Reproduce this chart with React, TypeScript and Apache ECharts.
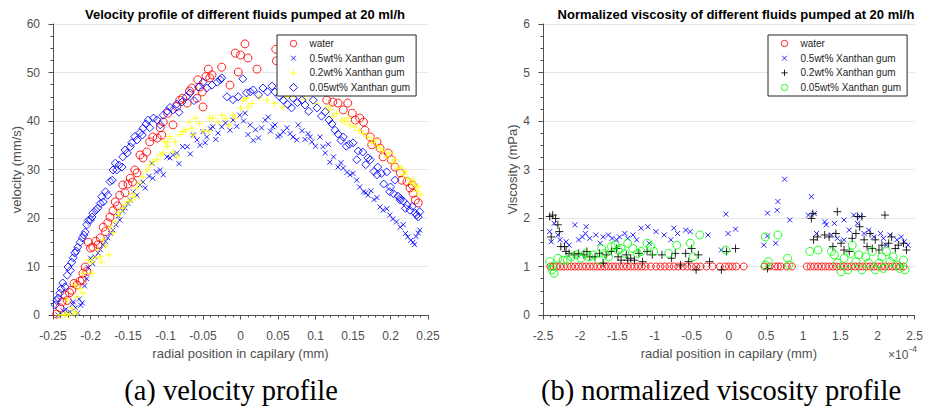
import React, { useEffect, useRef } from "react";
import * as echarts from "echarts";

// ---- shared labels ----
const fluidNames = ["water", "0.5wt% Xanthan gum", "0.2wt% Xanthan gum", "0.05wt% Xanthan gum"];
const velocityTitle = "Velocity profile of different fluids pumped at 20 ml/h";
const viscosityTitle = "Normalized viscosity of different fluids pumped at 20 ml/h";
const xAxisName = "radial position in capilary (mm)";
const velocityAxisName = "velocity (mm/s)";
const viscosityAxisName = "Viscosity (mPa)";
const captionA = "(a) velocity profile";
const captionB = "(b) normalized viscosity profile";

// ---- (a) velocity profile: [radial position (mm), velocity (mm/s)] ----
const velocityWater: [number, number][] = [
  [-0.245, 0.2], [-0.241, 1.5], [-0.238, 2.7], [-0.234, 4.1], [-0.231, 3.0], [-0.228, 4.6], [-0.225, 5.1],
  [-0.222, 6.5], [-0.218, 6.2], [-0.214, 7.0], [-0.211, 7.2], [-0.21, 8.6], [-0.207, 9.9], [-0.205, 9.0],
  [-0.203, 15.0], [-0.2, 13.8], [-0.197, 14.0], [-0.193, 15.2], [-0.19, 14.5], [-0.187, 15.9], [-0.183, 18.1],
  [-0.18, 17.2], [-0.177, 19.0], [-0.174, 20.2], [-0.17, 21.5], [-0.167, 23.3], [-0.164, 22.5], [-0.161, 24.7],
  [-0.157, 26.8], [-0.154, 25.2], [-0.15, 27.0], [-0.147, 28.2], [-0.144, 27.4], [-0.141, 29.9], [-0.138, 29.3],
  [-0.134, 33.0], [-0.13, 32.4], [-0.125, 33.6], [-0.121, 35.7], [-0.117, 36.7], [-0.111, 36.5], [-0.107, 38.6],
  [-0.105, 37.1], [-0.103, 39.8], [-0.097, 41.6], [-0.09, 39.2], [-0.085, 43.0], [-0.081, 44.3], [-0.077, 44.7],
  [-0.071, 43.7], [-0.068, 46.2], [-0.065, 46.8], [-0.058, 44.7], [-0.057, 48.5], [-0.054, 47.0], [-0.051, 46.0],
  [-0.05, 42.9], [-0.046, 49.2], [-0.043, 50.7], [-0.041, 48.9], [-0.038, 49.5], [-0.025, 51.1], [-0.014, 47.4],
  [-0.007, 54.0], [-0.003, 50.1], [0.0, 53.6], [0.006, 55.9], [0.01, 53.0], [0.022, 50.7], [0.047, 54.8],
  [0.048, 52.4], [0.06, 53.2], [0.075, 51.6], [0.09, 49.5], [0.105, 46.8], [0.115, 44.3], [0.123, 43.9],
  [0.13, 43.7], [0.137, 42.3], [0.143, 43.7], [0.149, 41.6], [0.153, 40.2], [0.159, 40.6], [0.164, 39.8],
  [0.166, 38.1], [0.173, 36.7], [0.175, 35.1], [0.182, 35.7], [0.186, 34.4], [0.19, 32.6], [0.197, 33.4],
  [0.201, 32.0], [0.206, 30.5], [0.213, 29.3], [0.215, 27.8], [0.222, 27.5], [0.226, 26.2], [0.229, 26.8],
  [0.23, 25.1], [0.233, 23.7], [0.237, 23.1],
];

const velocityXG05: [number, number][] = [
  [-0.243, 0.0], [-0.24, 0.3], [-0.236, 0.8], [-0.233, 1.2], [-0.23, 0.4], [-0.227, 0.6], [-0.224, 2.2],
  [-0.223, 2.7], [-0.22, 1.5], [-0.217, 0.4], [-0.215, 3.3], [-0.213, 2.0], [-0.211, 2.5], [-0.208, 6.0],
  [-0.205, 7.5], [-0.203, 9.8], [-0.2, 11.7], [-0.197, 10.6], [-0.194, 12.0], [-0.19, 12.8], [-0.187, 13.5],
  [-0.183, 14.4], [-0.18, 15.2], [-0.177, 15.9], [-0.173, 16.8], [-0.17, 17.5], [-0.166, 18.6], [-0.163, 20.4],
  [-0.161, 19.6], [-0.157, 21.4], [-0.154, 22.1], [-0.15, 23.0], [-0.147, 23.7], [-0.143, 25.4], [-0.138, 24.7],
  [-0.134, 26.8], [-0.13, 27.4], [-0.127, 26.2], [-0.122, 28.6], [-0.118, 31.3], [-0.117, 28.2], [-0.112, 29.5],
  [-0.107, 29.9], [-0.103, 28.9], [-0.098, 32.6], [-0.094, 32.4], [-0.09, 33.0], [-0.085, 33.4], [-0.082, 31.2],
  [-0.077, 34.7], [-0.071, 34.7], [-0.067, 33.2], [-0.063, 37.1], [-0.058, 36.1], [-0.054, 35.0], [-0.05, 37.8],
  [-0.047, 35.5], [-0.045, 36.7], [-0.04, 38.4], [-0.037, 38.8], [-0.033, 36.2], [-0.03, 37.5], [-0.025, 38.8],
  [-0.02, 39.6], [-0.014, 38.1], [-0.01, 40.2], [-0.005, 38.9], [-0.001, 41.2], [0.004, 40.0], [0.006, 41.6],
  [0.01, 37.2], [0.013, 39.2], [0.017, 36.0], [0.02, 38.2], [0.024, 36.5], [0.028, 38.6], [0.033, 40.2],
  [0.037, 40.8], [0.04, 37.9], [0.043, 38.8], [0.046, 39.2], [0.05, 36.8], [0.053, 37.1], [0.057, 37.8],
  [0.062, 38.6], [0.066, 37.4], [0.07, 36.7], [0.075, 36.1], [0.077, 39.2], [0.082, 38.0], [0.086, 36.2],
  [0.09, 37.4], [0.093, 36.7], [0.095, 35.7], [0.1, 34.8], [0.106, 36.7], [0.11, 34.7], [0.113, 33.4],
  [0.117, 35.2], [0.119, 31.5], [0.124, 32.6], [0.13, 30.5], [0.134, 31.4], [0.137, 30.3], [0.142, 29.4],
  [0.146, 28.9], [0.15, 29.2], [0.155, 27.8], [0.159, 26.4], [0.164, 25.4], [0.167, 25.2], [0.17, 24.7],
  [0.174, 25.6], [0.178, 23.8], [0.182, 24.2], [0.186, 22.3], [0.19, 21.6], [0.195, 21.9], [0.199, 20.6],
  [0.203, 19.8], [0.208, 19.2], [0.213, 18.1], [0.217, 18.6], [0.22, 16.8], [0.223, 16.1], [0.227, 15.4],
  [0.23, 15.0], [0.232, 14.5], [0.234, 16.2], [0.237, 16.9], [0.239, 17.5],
];

const velocityXG02: [number, number][] = [
  [-0.242, 0.0], [-0.238, 0.0], [-0.234, 0.0], [-0.231, 0.3], [-0.228, 0.0], [-0.225, 1.4], [-0.222, 0.6],
  [-0.218, 0.4], [-0.231, 3.1], [-0.218, 3.7], [-0.221, 6.2], [-0.214, 5.5], [-0.21, 4.5], [-0.21, 8.6],
  [-0.203, 11.3], [-0.198, 8.6], [-0.198, 10.9], [-0.193, 11.8], [-0.19, 13.4], [-0.187, 12.0], [-0.185, 10.9],
  [-0.183, 15.5], [-0.18, 14.2], [-0.176, 12.4], [-0.174, 18.1], [-0.17, 17.0], [-0.167, 19.2], [-0.163, 20.5],
  [-0.161, 21.2], [-0.157, 22.0], [-0.154, 22.7], [-0.15, 23.4], [-0.147, 23.7], [-0.144, 25.0], [-0.141, 24.3],
  [-0.138, 26.2], [-0.134, 27.2], [-0.13, 28.5], [-0.125, 29.9], [-0.121, 30.9], [-0.117, 31.6], [-0.111, 32.0],
  [-0.107, 33.0], [-0.103, 33.4], [-0.101, 35.7], [-0.098, 34.7], [-0.097, 35.7], [-0.094, 36.8], [-0.09, 33.6],
  [-0.087, 35.7], [-0.085, 32.6], [-0.081, 37.2], [-0.077, 37.8], [-0.073, 38.2], [-0.068, 39.8], [-0.065, 38.5],
  [-0.063, 37.1], [-0.06, 40.6], [-0.055, 39.5], [-0.05, 38.0], [-0.043, 37.8], [-0.041, 40.6], [-0.037, 40.6],
  [-0.03, 39.8], [-0.025, 41.2], [-0.02, 40.5], [-0.016, 39.2], [-0.01, 41.2], [-0.007, 40.6], [0.0, 42.6],
  [0.003, 44.3], [0.008, 44.7], [0.01, 42.9], [0.015, 43.6], [0.025, 44.8], [0.035, 44.3], [0.045, 43.6],
  [0.057, 42.9], [0.06, 45.0], [0.066, 45.0], [0.073, 45.4], [0.085, 44.5], [0.1, 43.6], [0.117, 42.9],
  [0.119, 42.3], [0.123, 40.9], [0.128, 41.6], [0.135, 40.2], [0.139, 39.8], [0.143, 40.6], [0.146, 39.2],
  [0.152, 38.8], [0.158, 38.0], [0.164, 37.4], [0.17, 36.7], [0.175, 35.5], [0.179, 36.1], [0.183, 34.9],
  [0.186, 34.4], [0.19, 33.8], [0.195, 32.6], [0.199, 33.4], [0.203, 31.4], [0.206, 32.0], [0.21, 30.2],
  [0.213, 30.5], [0.217, 29.0], [0.22, 29.6], [0.223, 28.2], [0.227, 27.2], [0.23, 27.8], [0.233, 26.8],
  [0.235, 25.5], [0.237, 26.4], [0.24, 24.8],
];

const velocityXG005: [number, number][] = [
  [-0.247, 2.1], [-0.245, 3.0], [-0.243, 3.5], [-0.241, 4.5], [-0.239, 5.4], [-0.237, 6.6], [-0.234, 5.8],
  [-0.231, 8.2], [-0.23, 9.9], [-0.227, 9.2], [-0.225, 10.9], [-0.223, 11.8], [-0.221, 12.8], [-0.219, 13.2],
  [-0.217, 14.0], [-0.214, 15.0], [-0.211, 15.9], [-0.209, 16.5], [-0.207, 17.1], [-0.205, 18.6], [-0.203, 19.5],
  [-0.2, 19.6], [-0.198, 20.2], [-0.197, 21.0], [-0.193, 21.6], [-0.19, 22.1], [-0.187, 23.0], [-0.185, 24.4],
  [-0.183, 23.3], [-0.18, 25.4], [-0.177, 24.7], [-0.174, 27.5], [-0.171, 27.8], [-0.17, 29.9], [-0.167, 31.3],
  [-0.165, 29.9], [-0.162, 30.9], [-0.158, 30.5], [-0.157, 32.6], [-0.154, 34.0], [-0.151, 33.4], [-0.147, 34.7],
  [-0.145, 35.5], [-0.141, 36.8], [-0.138, 36.1], [-0.134, 37.6], [-0.131, 37.1], [-0.13, 38.5], [-0.126, 39.4],
  [-0.123, 40.2], [-0.121, 38.6], [-0.116, 40.6], [-0.111, 40.2], [-0.107, 39.2], [-0.103, 41.2], [-0.098, 42.0],
  [-0.094, 42.8], [-0.09, 42.3], [-0.085, 43.5], [-0.082, 41.8], [-0.078, 43.9], [-0.072, 45.0], [-0.067, 45.8],
  [-0.062, 44.2], [-0.056, 47.0], [-0.05, 48.0], [-0.045, 46.8], [-0.038, 47.4], [-0.031, 48.0], [-0.027, 48.5],
  [-0.025, 48.9], [-0.018, 45.0], [-0.01, 44.4], [-0.003, 45.0], [0.003, 48.7], [0.008, 45.8], [0.013, 46.0],
  [0.017, 46.4], [0.024, 45.4], [0.03, 46.8], [0.036, 46.0], [0.042, 47.2], [0.046, 46.0], [0.052, 45.0],
  [0.057, 44.3], [0.063, 43.4], [0.068, 42.7], [0.07, 44.7], [0.076, 43.8], [0.082, 44.3], [0.086, 43.3],
  [0.091, 42.0], [0.097, 44.3], [0.102, 42.7], [0.108, 41.0], [0.113, 41.9], [0.118, 40.2], [0.122, 39.4],
  [0.126, 38.1], [0.13, 37.3], [0.134, 36.0], [0.137, 36.7], [0.141, 34.8], [0.145, 35.2], [0.15, 35.5],
  [0.155, 32.0], [0.157, 33.8], [0.163, 33.6], [0.167, 31.0], [0.17, 32.4], [0.173, 32.0], [0.178, 29.6],
  [0.182, 28.9], [0.183, 30.5], [0.188, 29.2], [0.191, 27.0], [0.195, 29.5], [0.199, 25.4], [0.2, 26.4],
  [0.204, 25.0], [0.206, 27.8], [0.21, 24.5], [0.213, 24.1], [0.213, 23.7], [0.217, 23.5], [0.22, 22.0],
  [0.222, 22.7], [0.226, 21.6], [0.229, 22.4], [0.233, 21.0], [0.235, 20.6], [0.237, 20.2], [0.239, 21.3],
];

// ---- (b) normalized viscosity: [radial position (x1e-4 mm), viscosity (mPa)] ----
const viscosityWater: [number, number][] = [
  [-2.4, 1], [-2.36, 1], [-2.32, 1], [-2.27, 1], [-2.22, 1], [-2.17, 1], [-2.12, 1], [-2.07, 1], [-2.02, 1],
  [-1.97, 1], [-1.92, 1], [-1.87, 1], [-1.82, 1], [-1.77, 1], [-1.72, 1], [-1.67, 1], [-1.62, 1], [-1.57, 1],
  [-1.52, 1], [-1.47, 1], [-1.42, 1], [-1.37, 1], [-1.32, 1], [-1.27, 1], [-1.22, 1], [-1.17, 1], [-1.12, 1],
  [-1.05, 1], [-0.98, 1], [-0.92, 1], [-0.86, 1], [-0.8, 1], [-0.74, 1], [-0.68, 1], [-0.62, 1], [-0.56, 1],
  [-0.5, 1], [-0.44, 1], [-0.38, 1], [-0.3, 1], [-0.22, 1], [-0.12, 1], [-0.05, 1], [0.0, 1], [0.05, 1],
  [0.1, 1], [0.2, 1], [0.48, 1], [0.55, 1], [0.62, 1], [0.66, 1], [0.7, 1], [0.78, 1], [0.85, 1], [1.05, 1],
  [1.1, 1], [1.15, 1], [1.2, 1], [1.25, 1], [1.3, 1], [1.35, 1], [1.4, 1], [1.45, 1], [1.5, 1], [1.55, 1],
  [1.6, 1], [1.65, 1], [1.7, 1], [1.75, 1], [1.8, 1], [1.85, 1], [1.9, 1], [1.95, 1], [2.0, 1], [2.05, 1],
  [2.1, 1], [2.15, 1], [2.2, 1], [2.25, 1], [2.3, 1], [2.35, 1],
];

const viscosityXG05: [number, number][] = [
  [-2.41, 1.72], [-2.39, 1.51], [-2.35, 1.89], [-2.3, 1.65], [-2.27, 1.55], [-2.19, 1.51], [-2.15, 1.44],
  [-2.07, 1.86], [-2.02, 1.55], [-1.97, 1.61], [-1.93, 1.68], [-1.92, 1.82], [-1.87, 1.58], [-1.79, 1.65],
  [-1.73, 1.48], [-1.69, 1.61], [-1.62, 1.65], [-1.57, 1.58], [-1.51, 1.55], [-1.47, 1.61], [-1.4, 1.68],
  [-1.36, 1.58], [-1.29, 1.65], [-1.24, 1.55], [-1.18, 1.79], [-1.09, 1.82], [-1.07, 1.48], [-0.98, 1.72],
  [-0.87, 1.65], [-0.78, 1.55], [-0.74, 1.79], [-0.69, 1.68], [-0.58, 1.75], [-0.52, 1.72], [-0.28, 1.65],
  [-0.1, 1.34], [-0.04, 2.08], [-0.01, 1.68], [0.09, 1.77], [0.47, 1.44], [0.52, 2.1], [0.52, 1.63],
  [0.63, 1.48], [0.65, 2.16], [0.66, 2.34], [0.75, 2.8], [0.82, 1.96], [1.07, 2.06], [1.11, 2.44],
  [1.15, 2.09], [1.18, 1.68], [1.29, 1.92], [1.31, 1.86], [1.38, 1.65], [1.42, 1.89], [1.46, 1.58],
  [1.55, 1.96], [1.55, 1.55], [1.62, 1.75], [1.68, 2.06], [1.73, 1.89], [1.77, 2.03], [1.82, 1.68],
  [1.88, 1.75], [1.95, 1.61], [2.04, 1.68], [2.08, 1.58], [2.12, 1.44], [2.17, 1.65], [2.26, 1.55],
  [2.32, 1.61], [2.36, 1.51], [2.41, 1.44],
];

const viscosityXG02: [number, number][] = [
  [-2.41, 2.03], [-2.37, 2.06], [-2.33, 1.99], [-2.39, 1.61], [-2.3, 1.86], [-2.28, 1.72], [-2.26, 1.41],
  [-2.21, 1.41], [-2.19, 1.31], [-2.15, 1.27], [-2.08, 1.24], [-2.02, 1.27], [-1.95, 1.24], [-1.91, 1.31],
  [-1.87, 1.2], [-1.8, 1.2], [-1.74, 1.27], [-1.69, 1.07], [-1.65, 1.24], [-1.58, 1.31], [-1.51, 1.37],
  [-1.49, 1.2], [-1.45, 1.13], [-1.38, 1.24], [-1.36, 1.13], [-1.32, 1.17], [-1.27, 1.13], [-1.21, 1.27],
  [-1.16, 1.1], [-1.1, 1.31], [-1.03, 1.24], [-0.9, 1.24], [-0.77, 1.17], [-0.72, 1.27], [-0.65, 1.03],
  [-0.58, 1.27], [-0.54, 1.1], [-0.5, 1.37], [-0.44, 0.93], [-0.41, 1.24], [-0.26, 1.1], [-0.1, 0.93],
  [-0.03, 1.31], [0.09, 1.37], [0.52, 0.96], [1.11, 1.99], [1.13, 2.09], [1.14, 1.55], [1.19, 1.61],
  [1.29, 1.65], [1.35, 1.61], [1.4, 1.41], [1.44, 1.68], [1.46, 2.13], [1.51, 1.48], [1.55, 1.34],
  [1.62, 1.31], [1.66, 1.58], [1.71, 1.68], [1.73, 2.03], [1.76, 1.82], [1.79, 2.03], [1.82, 1.55],
  [1.86, 1.41], [1.9, 1.68], [1.93, 1.37], [1.97, 1.55], [2.02, 1.34], [2.06, 1.44], [2.1, 2.06],
  [2.15, 1.48], [2.19, 1.61], [2.24, 1.37], [2.28, 1.44], [2.35, 1.48], [2.39, 1.34],
];

const viscosityXG005: [number, number][] = [
  [-2.41, 1.1], [-2.38, 0.93], [-2.35, 0.86], [-2.37, 1.0], [-2.3, 1.17], [-2.23, 1.13], [-2.17, 1.13],
  [-2.12, 1.2], [-2.05, 1.24], [-1.99, 1.17], [-1.93, 1.27], [-1.88, 1.2], [-1.82, 1.24], [-1.75, 1.13],
  [-1.71, 1.37], [-1.67, 1.27], [-1.62, 1.2], [-1.58, 1.41], [-1.53, 1.44], [-1.49, 1.34], [-1.45, 1.37],
  [-1.4, 1.27], [-1.36, 1.48], [-1.29, 1.37], [-1.23, 1.27], [-1.18, 1.31], [-1.1, 1.48], [-1.05, 1.41],
  [-1.01, 1.31], [-0.81, 1.27], [-0.7, 1.44], [-0.52, 1.48], [-0.48, 1.2], [-0.39, 1.65], [-0.04, 1.34],
  [0.49, 1.61], [0.49, 1.03], [0.53, 1.1], [0.66, 1.65], [0.79, 1.17], [0.81, 1.03], [1.09, 1.31],
  [1.2, 1.34], [1.38, 1.31], [1.42, 1.24], [1.46, 1.07], [1.51, 0.89], [1.55, 1.17], [1.6, 0.93],
  [1.64, 1.27], [1.66, 1.44], [1.71, 1.1], [1.75, 1.24], [1.79, 0.93], [1.84, 1.2], [1.88, 1.07],
  [1.93, 1.31], [1.97, 0.93], [2.02, 1.07], [2.06, 1.2], [2.08, 0.96], [2.12, 1.31], [2.17, 1.1],
  [2.21, 1.2], [2.26, 1.03], [2.3, 0.96], [2.35, 1.13], [2.37, 0.93],
];

// marker shapes
const CROSS = "path://M0,0L10,10M10,0L0,10";
const PLUS = "path://M5,0L5,10M0,5L10,5";
// legend glyphs: the leading moves fix a 10x10 box so the strokes sit smaller inside it
const CROSS_ICON = "path://M0,0M10,10M2,2L8,8M8,2L2,8";
const PLUS_ICON = "path://M0,0M10,10M5,1L5,9M1,5L9,5";
const CIRCLE_ICON = "path://M0,0M10,10M9,5A4,4,0,1,1,1,5A4,4,0,1,1,9,5Z";

const FONT = "'Liberation Sans', Arial, Helvetica, sans-serif";
const SERIF = "'Liberation Serif', 'Times New Roman', serif";
const AXIS_COLOR = "#505050";
const GRID_COLOR = "#e6e6e6";

type MarkerStyle = { symbol: string; icon: string; size: number; color: string };

const velocityMarkers: MarkerStyle[] = [
  { symbol: "circle", icon: CIRCLE_ICON, size: 8, color: "#ff0000" },
  { symbol: CROSS, icon: CROSS_ICON, size: 5, color: "#0000ff" },
  { symbol: PLUS, icon: PLUS_ICON, size: 7, color: "#ffff00" },
  { symbol: "diamond", icon: "diamond", size: 8, color: "#0000ff" },
];

const viscosityMarkers: MarkerStyle[] = [
  { symbol: "circle", icon: CIRCLE_ICON, size: 7, color: "#ff0000" },
  { symbol: CROSS, icon: CROSS_ICON, size: 5, color: "#0000ff" },
  { symbol: PLUS, icon: PLUS_ICON, size: 8, color: "#000000" },
  { symbol: "circle", icon: CIRCLE_ICON, size: 8, color: "#00ff00" },
];

function scatter(name: string, data: [number, number][], m: MarkerStyle, gridIdx: number) {
  return {
    type: "scatter",
    name,
    data,
    xAxisIndex: gridIdx,
    yAxisIndex: gridIdx,
    symbol: m.symbol,
    symbolSize: m.size,
    silent: true,
    itemStyle: { color: "transparent", borderColor: m.color, borderWidth: 1, opacity: 0.85 },
  };
}

function legendData(markers: MarkerStyle[]) {
  return fluidNames.map((name, i) => ({
    name,
    icon: markers[i].icon,
    itemStyle: { color: "transparent", borderColor: markers[i].color, borderWidth: 1, opacity: 0.85 },
  }));
}

function legend(left: number, markers: MarkerStyle[]) {
  return {
    orient: "vertical",
    left,
    top: 35,
    padding: [1.5, 6, 1.5, 12],
    itemWidth: 8,
    itemHeight: 8,
    itemGap: 0.67,
    selectedMode: false,
    backgroundColor: "#ffffff",
    borderColor: "#262626",
    borderWidth: 1,
    borderRadius: 0,
    textStyle: { fontFamily: FONT, fontSize: 10, color: "#262626", lineHeight: 14, padding: [0, 0, 0, 7] },
    data: legendData(markers),
  };
}

function valueAxisX(gridIndex: number, min: number, max: number, interval: number, minorSplit: number) {
  return {
    type: "value",
    gridIndex,
    min,
    max,
    interval,
    name: xAxisName,
    nameLocation: "middle",
    nameGap: 32,
    nameTextStyle: { fontFamily: FONT, fontSize: 13, color: AXIS_COLOR },
    axisLine: { show: true, onZero: false, lineStyle: { color: AXIS_COLOR, width: 1 } },
    axisTick: { show: true, inside: false, length: 4.5, lineStyle: { color: AXIS_COLOR } },
    minorTick: { show: true, splitNumber: minorSplit, length: 2.5, lineStyle: { color: AXIS_COLOR } },
    splitLine: { show: false },
    axisLabel: {
      fontFamily: FONT,
      fontSize: 12,
      color: AXIS_COLOR,
      margin: 15,
      formatter: (v: number) => String(parseFloat(v.toFixed(3))),
    },
  };
}

function valueAxisY(gridIndex: number, max: number, interval: number, name: string, nameGap: number) {
  return {
    type: "value",
    gridIndex,
    min: 0,
    max,
    interval,
    name,
    nameLocation: "middle",
    nameGap,
    nameTextStyle: { fontFamily: FONT, fontSize: 13, color: AXIS_COLOR },
    axisLine: { show: true, onZero: false, lineStyle: { color: AXIS_COLOR, width: 1 } },
    axisTick: { show: true, inside: false, length: 4.5, lineStyle: { color: AXIS_COLOR } },
    minorTick: { show: true, splitNumber: 4, length: 2.5, lineStyle: { color: AXIS_COLOR } },
    splitLine: { show: true, lineStyle: { color: GRID_COLOR, width: 1 } },
    axisLabel: { fontFamily: FONT, fontSize: 12, color: AXIS_COLOR, margin: 13 },
  };
}

export default function App() {
  const ref = useRef<HTMLDivElement>(null);

  useEffect(() => {
    if (!ref.current) return;
    const chart = echarts.init(ref.current, undefined, { renderer: "svg" });

    const velocitySets = [velocityWater, velocityXG05, velocityXG02, velocityXG005];
    const viscositySets = [viscosityWater, viscosityXG05, viscosityXG02, viscosityXG005];

    chart.setOption({
      animation: false,
      backgroundColor: "#ffffff",
      textStyle: { fontFamily: FONT },
      title: [
        {
          text: velocityTitle,
          left: 240,
          top: 2.5,
          textAlign: "center",
          textStyle: { fontFamily: FONT, fontSize: 13, fontWeight: "bold", color: "#000000" },
        },
        {
          text: viscosityTitle,
          left: 731,
          top: 2.5,
          textAlign: "center",
          textStyle: { fontFamily: FONT, fontSize: 13, fontWeight: "bold", color: "#000000" },
        },
      ],
      grid: [
        { left: 53, top: 24, width: 375, height: 291, show: false },
        { left: 543, top: 24, width: 378, height: 291, show: false },
      ],
      xAxis: [valueAxisX(0, -0.25, 0.25, 0.05, 5), valueAxisX(1, -2.5, 2.5, 0.5, 5)],
      yAxis: [
        valueAxisY(0, 60, 10, velocityAxisName, 30),
        valueAxisY(1, 6, 1, viscosityAxisName, 24),
      ],
      legend: [legend(277, velocityMarkers), legend(768, viscosityMarkers)],
      series: [
        ...velocitySets.map((d, i) => scatter(fluidNames[i], d, velocityMarkers[i], 0)),
        ...viscositySets.map((d, i) => scatter(fluidNames[i], d, viscosityMarkers[i], 1)),
      ],
      graphic: [
        {
          type: "text",
          x: 888,
          y: 355,
          style: { text: "×10", fontFamily: FONT, fontSize: 12, fill: AXIS_COLOR, verticalAlign: "middle", align: "left" },
        },
        {
          type: "text",
          x: 909,
          y: 349,
          style: { text: "-4", fontFamily: FONT, fontSize: 9, fill: AXIS_COLOR, verticalAlign: "middle", align: "left" },
        },
        {
          type: "text",
          x: 231,
          y: 390,
          style: {
            text: captionA,
            fontFamily: SERIF,
            fontSize: 28.5,
            fill: "#000000",
            align: "center",
            verticalAlign: "middle",
          },
        },
        {
          type: "text",
          x: 721,
          y: 390,
          style: {
            text: captionB,
            fontFamily: SERIF,
            fontSize: 28.5,
            fill: "#000000",
            align: "center",
            verticalAlign: "middle",
          },
        },
      ],
    });

    return () => chart.dispose();
  }, []);

  return (
    <div
      ref={ref}
      style={{ position: "fixed", left: 0, top: 0, width: 926, height: 408, background: "#ffffff" }}
    />
  );
}
